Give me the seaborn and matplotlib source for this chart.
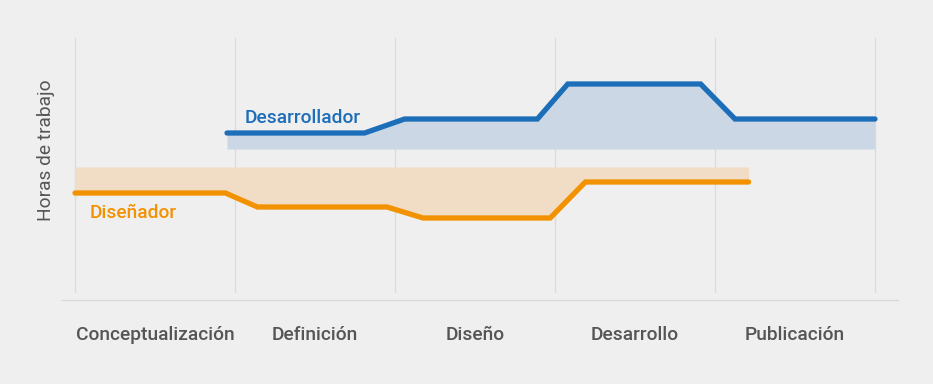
import matplotlib
matplotlib.use("Agg")
import matplotlib.pyplot as plt
import seaborn as sns
import pandas as pd

# fases del proyecto (eje x)
fases = ["Conceptualización", "Definición", "Diseño", "Desarrollo", "Publicación"]

# Desarrollador: puntos de la línea (posición en fases, horas)
dev_x = [0.95, 1.81, 2.06, 2.89, 3.08, 3.91, 4.125, 5.0]
dev_y = [16.7, 16.7, 18.1, 18.1, 21.6, 21.6, 18.1, 18.1]
dev_base = 15.1

# Diseñador
dis_x = [0.0, 0.94, 1.14, 1.95, 2.175, 2.97, 3.19, 4.21]
dis_y = [10.7, 10.7, 9.3, 9.3, 8.2, 8.2, 11.8, 11.8]
dis_top = 13.3

azul = "#1c6eb9"
azul_claro = "#cbd7e4"
naranja = "#f39200"
naranja_claro = "#f1dcc5"
gris = "#555555"
fondo = "#efefef"

sns.set_style("white")
plt.rcParams["font.family"] = ["Roboto", "DejaVu Sans"]
plt.rcParams["font.weight"] = "medium"

fig = plt.figure(figsize=(9.33, 3.84), dpi=100, facecolor=fondo)
ax = fig.add_axes([62 / 933, 84 / 384, 836 / 933, 262 / 384])
ax.set_facecolor(fondo)

# líneas verticales de fase
for i in range(len(fases) + 1):
    ax.axvline(i, ymin=8 / 262, ymax=1, color="#dcdcdc", lw=1, zorder=0)

ax.fill_between(dev_x, dev_y, dev_base, color=azul_claro, lw=0, zorder=1)
ax.fill_between(dis_x, dis_y, dis_top, color=naranja_claro, lw=0, zorder=1)

dev = pd.DataFrame({"x": dev_x, "y": dev_y})
dis = pd.DataFrame({"x": dis_x, "y": dis_y})
sns.lineplot(data=dev, x="x", y="y", color=azul, lw=3.8, ax=ax,
             solid_capstyle="round", solid_joinstyle="miter", zorder=3)
sns.lineplot(data=dis, x="x", y="y", color=naranja, lw=3.8, ax=ax,
             solid_capstyle="round", solid_joinstyle="miter", zorder=3)

ax.text(1.06, 18.2, "Desarrollador", color=azul, fontsize=13.8, ha="left", va="center")
ax.text(0.09, 8.7, "Diseñador", color=naranja, fontsize=13.8, ha="left", va="center")

ax.set_xlim(-13 / 160, 5 + 23 / 160)
ax.set_ylim(0, 26.2)
ax.set_xticks([i + 0.5 for i in range(len(fases))])
ax.set_xticklabels(fases, color=gris, fontsize=13.8)
ax.tick_params(axis="x", length=0, pad=18.5)
ax.set_yticks([])
ax.set_xlabel("")
ax.set_ylabel("Horas de trabajo", color=gris, fontsize=13.8)
ax.yaxis.set_label_coords(-0.008, 0.57)

for s in ["top", "right", "left"]:
    ax.spines[s].set_visible(False)
ax.spines["bottom"].set_color("#d9d9d9")
ax.spines["bottom"].set_linewidth(1)

fig.savefig("out.png", dpi=100, facecolor=fondo)
